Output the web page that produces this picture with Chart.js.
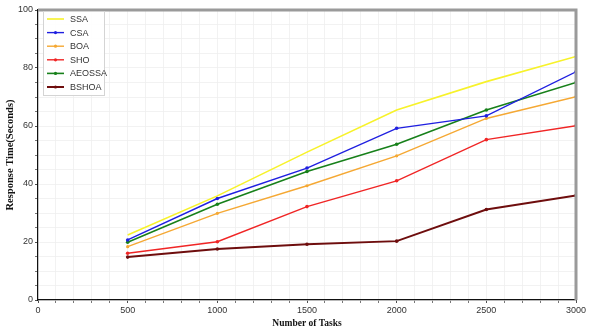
<!DOCTYPE html>
<html>
<head>
<meta charset="utf-8">
<script src="https://cdn.jsdelivr.net/npm/chart.js@4/dist/chart.umd.min.js"></script>
<style>
	html, body { margin: 0; padding: 0; background: #fff; }
	#wrap { width: 590px; height: 335px; }
</style>
</head>
<body>
<div id="wrap"><canvas id="chart-response-time" width="590" height="335"></canvas></div>
<script>
const TASKS = [500, 1000, 1500, 2000, 2500, 3000];
const SSA = [22.4, 35.9, 51, 65.5, 75.3, 84];
const CSA = [20.7, 35, 45.5, 59.2, 63.5, 78.7];
const BOA = [18.4, 29.9, 39.4, 49.7, 62.6, 70.1];
const SHO = [16.1, 20.1, 32.2, 41.1, 55.3, 60.1];
const AEOSSA = [19.9, 33, 44.3, 53.7, 65.5, 75];
const BSHOA = [14.8, 17.6, 19.2, 20.3, 31.2, 36];

const SERIES = [
	{ label: "SSA", data: SSA, color: "#f7f22a", width: 1.6, marker: 0 },
	{ label: "CSA", data: CSA, color: "#1f1fe0", width: 1.4, marker: 1.8 },
	{ label: "BOA", data: BOA, color: "#f5a833", width: 1.4, marker: 1.6 },
	{ label: "SHO", data: SHO, color: "#f02525", width: 1.4, marker: 1.8 },
	{ label: "AEOSSA", data: AEOSSA, color: "#17801a", width: 1.6, marker: 1.8 },
	{ label: "BSHOA", data: BSHOA, color: "#6e0d0d", width: 2, marker: 1.8 },
];

const GRID_LIGHT = "#efefef";
const TICK_FONT = { family: "Liberation Sans", size: 9 };

// legend box drawn inside the plot, top left
const insideLegend = {
	id: "insideLegend",
	afterDraw(chart) {
		const { ctx, chartArea } = chart;
		const x0 = chartArea.left + 5;
		const y0 = chartArea.top + 1;
		const w = 61, h = 84;
		ctx.save();
		ctx.fillStyle = "rgba(255,255,255,0.9)";
		ctx.fillRect(x0, y0, w, h);
		ctx.strokeStyle = "#d4d4d4";
		ctx.lineWidth = 1;
		ctx.strokeRect(x0 + 0.5, y0 + 0.5, w, h);
		ctx.font = "9px 'Liberation Sans'";
		ctx.textBaseline = "middle";
		SERIES.forEach((s, i) => {
			const y = y0 + 8 + i * 13.6;
			ctx.strokeStyle = s.color;
			ctx.lineWidth = s.width;
			ctx.beginPath();
			ctx.moveTo(x0 + 4, y);
			ctx.lineTo(x0 + 21, y);
			ctx.stroke();
			if (s.marker) {
				ctx.fillStyle = s.color;
				ctx.beginPath();
				ctx.arc(x0 + 12.5, y, 1.6, 0, Math.PI * 2);
				ctx.fill();
			}
			ctx.fillStyle = "#333";
			ctx.fillText(s.label, x0 + 27, y + 0.5);
		});
		ctx.restore();
	},
};

// thick grey frame on top and right
const frame = {
	id: "frame",
	afterDatasetsDraw(chart) {
		const { ctx, chartArea } = chart;
		ctx.save();
		ctx.strokeStyle = "#9a9a9a";
		ctx.lineWidth = 3;
		ctx.beginPath();
		ctx.moveTo(chartArea.left, chartArea.top);
		ctx.lineTo(chartArea.right, chartArea.top);
		ctx.lineTo(chartArea.right, chartArea.bottom);
		ctx.stroke();
		ctx.restore();
	},
};

const CHART_CONFIG = {
	type: "line",
	data: {
		datasets: SERIES.map((s) => ({
			label: s.label,
			data: TASKS.map((t, i) => ({ x: t, y: s.data[i] })),
			borderColor: s.color,
			backgroundColor: s.color,
			borderWidth: s.width,
			pointRadius: s.marker,
			pointBorderWidth: 0,
			tension: 0,
		})),
	},
	options: {
		responsive: false,
		animation: false,
		layout: {
			padding: { top: 10, right: 14, left: 0, bottom: 0 },
		},
		plugins: {
			legend: { display: false },
			tooltip: { enabled: false },
		},
		scales: {
			x: {
				type: "linear",
				min: 0,
				max: 3000,
				border: { display: true, color: "#111", width: 1.2 },
				grid: {
					color: GRID_LIGHT,
					lineWidth: 0.8,
					drawTicks: true,
					tickLength: 3,
					tickColor: (c) => (c.tick && c.tick.value % 500 === 0 ? "#222" : "#555"),
				},
				ticks: {
					stepSize: 100,
					autoSkip: false,
					maxRotation: 0,
					padding: 2,
					color: "#333",
					font: TICK_FONT,
					callback: (v) => (v % 500 === 0 ? v : ""),
				},
				title: {
					display: true,
					text: "Number of Tasks",
					color: "#111",
					font: { family: "Liberation Serif", size: 9.5, weight: "bold" },
					padding: { top: 0, bottom: 6 },
				},
				afterFit: (scale) => {
					scale.height = 35;
				},
			},
			y: {
				min: 0,
				max: 100,
				border: { display: true, color: "#111", width: 1.2 },
				grid: {
					color: GRID_LIGHT,
					lineWidth: 0.8,
					tickLength: 3,
					tickColor: (c) => (c.tick && c.tick.value % 20 === 0 ? "#222" : "#555"),
				},
				ticks: {
					stepSize: 5,
					autoSkip: false,
					padding: 2,
					color: "#333",
					font: TICK_FONT,
					callback: (v) => (v % 20 === 0 ? v : ""),
				},
				title: {
					display: true,
					text: "Response Time(Seconds)",
					color: "#111",
					font: { family: "Liberation Serif", size: 10.5, weight: "bold" },
					padding: { top: 4, bottom: 0 },
				},
				afterFit: (scale) => {
					scale.width = 38;
				},
			},
		},
	},
	plugins: [frame, insideLegend],
};

const CHART_WRAPPER = document.getElementById("chart-response-time");
if (CHART_WRAPPER) {
	new Chart(CHART_WRAPPER, CHART_CONFIG);
}
</script>
</body>
</html>
